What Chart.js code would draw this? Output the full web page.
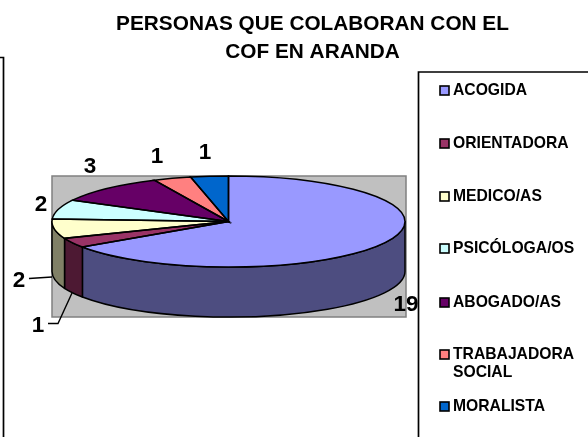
<!DOCTYPE html>
<html><head><meta charset="utf-8">
<style>html,body{margin:0;padding:0;background:#fff;overflow:hidden}#w{width:588px;height:437px;position:relative}</style>
<script src="https://cdn.jsdelivr.net/npm/chart.js@4/dist/chart.umd.min.js"></script>
</head><body><div id="w"><canvas id="c" width="588" height="437"></canvas></div>
<script>
const categories = ['ACOGIDA','ORIENTADORA','MEDICO/AS','PSICÓLOGA/OS','ABOGADO/AS','TRABAJADORA SOCIAL','MORALISTA'];
const values = [19,1,2,2,3,1,1];
const topColors = ['#9999FF','#993366','#FFFFCC','#CCFFFF','#660066','#FF8080','#0066CC'];
const wallColors = ['#4D4D80','#4D1933','#808066','#668080','#330033','#804040','#003366'];
const titleLines = ['PERSONAS QUE COLABORAN CON EL','COF EN ARANDA'];
const legendLines = [['ACOGIDA'],['ORIENTADORA'],['MEDICO/AS'],['PSICÓLOGA/OS'],['ABOGADO/AS'],['TRABAJADORA','SOCIAL'],['MORALISTA']];

const SQUASH = 0.258, DEPTH = 50;
const FAMILY = '"Liberation Sans", Arial, sans-serif';
const labelSpots = [[406,305],[38,326],[19,281],[41,205],[90,167],[157,157],[205,153]];
const legendY = [90,143,196,248,302,354,406];

function line(ctx, pts, w, col){
  ctx.beginPath(); pts.forEach((p,i)=> i?ctx.lineTo(p[0],p[1]):ctx.moveTo(p[0],p[1]));
  ctx.lineWidth=w; ctx.strokeStyle=col; ctx.stroke();
}
const pie3d = {
  id:'pie3d',
  beforeDraw(chart){
    const ctx=chart.ctx; ctx.save();
    line(ctx,[[0,57.5],[3.5,57.5],[3.5,437]],1.7,'#000');
    line(ctx,[[588,72],[418.5,72],[418.5,437]],1.7,'#000');
    ctx.fillStyle='#C0C0C0'; ctx.strokeStyle='#808080'; ctx.lineWidth=1.5;
    ctx.fillRect(52,176,354,141); ctx.strokeRect(52,176,354,141);
    ctx.fillStyle='#000'; ctx.font='bold 20.8px '+FAMILY;
    ctx.textAlign='center'; ctx.textBaseline='middle';
    ctx.fillText(titleLines[0],312.5,24); ctx.fillText(titleLines[1],312.5,52);
    ctx.restore();
  },
  beforeDatasetsDraw(chart){
    const ctx=chart.ctx, arcs=chart.getDatasetMeta(0).data;
    ctx.save();
    arcs.forEach((a,i)=>{
      const a0=Math.max(a.startAngle,0), a1=Math.min(a.endAngle,Math.PI);
      if(a1<=a0) return;
      const rx=a.outerRadius, ry=rx*SQUASH, cy=a.y;
      ctx.beginPath();
      ctx.ellipse(a.x,cy,rx,ry,0,a0,a1);
      ctx.ellipse(a.x,cy+DEPTH,rx,ry,0,a1,a0,true);
      ctx.closePath();
      ctx.fillStyle=wallColors[i]; ctx.fill();
      ctx.lineWidth=1.5; ctx.strokeStyle='#000'; ctx.lineJoin='round'; ctx.stroke();
    });
    const y=arcs[0].y;
    ctx.translate(0,y); ctx.scale(1,SQUASH); ctx.translate(0,-y);
  },
  afterDatasetsDraw(chart){
    const ctx=chart.ctx, arcs=chart.getDatasetMeta(0).data;
    ctx.restore();
    ctx.save();
    arcs.forEach(a=>{
      const rx=a.outerRadius, ry=rx*SQUASH;
      ctx.beginPath();
      ctx.moveTo(a.x,a.y);
      ctx.ellipse(a.x,a.y,rx,ry,0,a.startAngle,a.endAngle);
      ctx.closePath();
      ctx.lineWidth=1.5; ctx.strokeStyle='#000'; ctx.lineJoin='miter'; ctx.stroke();
    });
    line(ctx,[[29,278.5],[52,277]],1.4,'#000');
    line(ctx,[[48,323.5],[58,323.5],[72,293]],1.4,'#000');
    ctx.fillStyle='#000'; ctx.font='bold 22.5px '+FAMILY;
    ctx.textAlign='center'; ctx.textBaseline='middle';
    values.forEach((v,i)=>ctx.fillText(String(v),labelSpots[i][0],labelSpots[i][1]));
    ctx.font='bold 15.7px '+FAMILY; ctx.textAlign='left';
    categories.forEach((c,i)=>{
      const y=legendY[i];
      ctx.fillStyle=topColors[i]; ctx.fillRect(440,y-4,9,9);
      ctx.lineWidth=1.6; ctx.strokeStyle='#000'; ctx.strokeRect(440,y-4,9,9);
      ctx.fillStyle='#000';
      legendLines[i].forEach((t,k)=>ctx.fillText(t,453,y+1+k*18));
    });
    ctx.restore();
  }
};
new Chart(document.getElementById('c'),{
  type:'pie',
  data:{labels:categories,datasets:[{data:values,backgroundColor:topColors,borderWidth:0}]},
  options:{
    responsive:false,animation:false,
    layout:{padding:{left:52,right:183,top:45,bottom:39}},
    plugins:{legend:{display:false},title:{display:false},tooltip:{enabled:false}}
  },
  plugins:[pie3d]
});
</script></body></html>
